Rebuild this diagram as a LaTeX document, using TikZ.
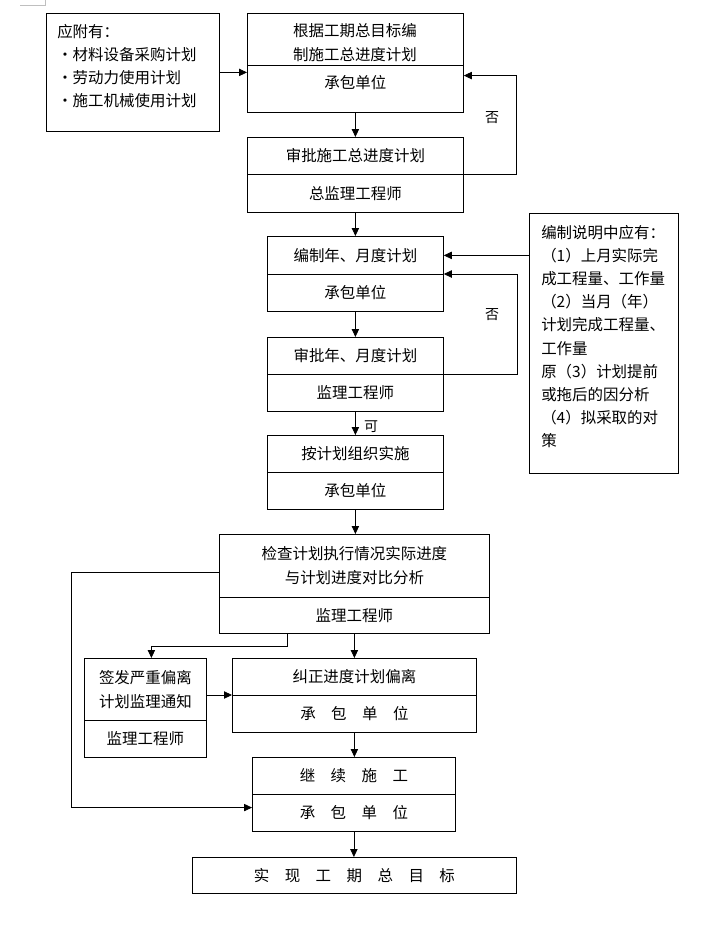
\documentclass[tikz,border=0pt]{standalone}
\usepackage{fontspec}
\setmainfont{Noto Sans CJK SC}
\usetikzlibrary{arrows.meta}
\newcommand\fs{\fontsize{11.6pt}{18pt}\selectfont}
\newcommand\gapp{\hspace{1em}}
\begin{document}
\begin{tikzpicture}[x=0.75pt, y=-0.75pt,
  bx/.style={draw, line width=0.6pt, inner sep=0pt, anchor=north west, align=center, font=\fs},
  arr/.style={draw, line width=0.6pt, -{Triangle[length=6pt,width=5.5pt]}},
  lbl/.style={inner sep=0pt, font=\fontsize{10.5pt}{12pt}\selectfont}]
\fill[white] (0,0) rectangle (724,925);
\useasboundingbox (0,0) rectangle (724,925);
\draw[black!25, line width=0.6pt] (20,5) -- (45,5) -- (45,0);

\node[bx, minimum width=129.75pt, minimum height=88.5pt] (A) at (46,13) {};
\node[inner sep=0pt, anchor=west, align=left, font=\fontsize{11.6pt}{17.25pt}\selectfont] (At) at (57,66.5) {应附有：\\・材料设备采购计划\\・劳动力使用计划\\・施工机械使用计划};

\node[bx, minimum width=162pt, minimum height=39pt] (B1) at (247,13) {};
\node[inner sep=0pt, align=center, font=\fs] (B1t) at (355,43) {根据工期总目标编\\制施工总进度计划};
\node[bx, minimum width=162pt, minimum height=35.25pt, text depth=11pt] (B2) at (247,65) {承包单位};
\node[bx, minimum width=162pt, minimum height=27.75pt] (C1) at (247,137) {审批施工总进度计划};
\node[bx, minimum width=162pt, minimum height=28.5pt] (C2) at (247,174) {总监理工程师};
\node[bx, minimum width=132pt, minimum height=28.5pt] (D1) at (267,236) {编制年、月度计划};
\node[bx, minimum width=132pt, minimum height=27.75pt] (D2) at (267,274) {承包单位};
\node[bx, minimum width=132pt, minimum height=27.75pt] (E1) at (267,337) {审批年、月度计划};
\node[bx, minimum width=132pt, minimum height=27.75pt] (E2) at (267,374) {监理工程师};
\node[bx, minimum width=132pt, minimum height=27.75pt] (G1) at (267,435) {按计划组织实施};
\node[bx, minimum width=132pt, minimum height=27.75pt] (G2) at (267,472) {承包单位};
\node[bx, minimum width=202.5pt, minimum height=47.25pt] (H1) at (219,534) {检查计划执行情况实际进度\\与计划进度对比分析};
\node[bx, minimum width=202.5pt, minimum height=27pt] (H2) at (219,597) {监理工程师};
\node[bx, minimum width=91.5pt, minimum height=46.5pt] (I1) at (84,658) {签发严重偏离\\计划监理通知};
\node[bx, minimum width=91.5pt, minimum height=27.75pt] (I2) at (84,720) {监理工程师};
\node[bx, minimum width=183pt, minimum height=27.75pt] (K1) at (232,658) {纠正进度计划偏离};
\node[bx, minimum width=183pt, minimum height=27.75pt] (K2) at (232,695) {承\gapp 包\gapp 单\gapp 位};
\node[bx, minimum width=152.25pt, minimum height=27.75pt] (J1) at (252,757) {继\gapp 续\gapp 施\gapp 工};
\node[bx, minimum width=152.25pt, minimum height=27.75pt] (J2) at (252,794) {承\gapp 包\gapp 单\gapp 位};
\node[bx, minimum width=243pt, minimum height=27pt] (L) at (192,857) {实\gapp 现\gapp 工\gapp 期\gapp 总\gapp 目\gapp 标};

\node[bx, minimum width=111.75pt, minimum height=195pt] (F) at (529,213) {};
\node[inner sep=0pt, anchor=west, align=left, font=\fontsize{11.6pt}{17.4pt}\selectfont] (Ft) at (541,336.5) {编制说明中应有：\\（1）上月实际完\\成工程量、工作量\\（2）当月（年）\\计划完成工程量、\\工作量\\原（3）计划提前\\或拖后的因分析\\（4）拟采取的对\\策};

\draw[arr] (A.east) -- (A.east -| B2.west);
\draw[arr] (B2.south) -- (C1.north);
\draw[arr] (C1.south east) -- ++(53,0) |- ([yshift=10pt]B2.east);
\draw[arr] (C2.south) -- (D1.north);
\draw[arr] (D1.east -| F.west) -- (D1.east);
\draw[arr] (D2.south) -- (E1.north);
\draw[arr] (E1.south east) -- ++(74,0) |- (D2.north east);
\draw[arr] (E2.south) -- (G1.north);
\draw[arr] (G2.south) -- (G2.south |- H1.north);
\draw[arr] ([yshift=-5pt]H1.west) -- ++(-148,0) |- ([yshift=4pt]J2.west);
\draw[arr] ([xshift=-50.25pt]H2.south) -- ++(0,13) -| ([xshift=4.5pt]I1.north);
\draw[arr] (H2.south) -- (K1.north);
\draw[arr] (I1.east |- K2.north west) -- (K2.north west);
\draw[arr] (K2.south) -- (K2.south |- J1.north);
\draw[arr] (J2.south) -- (J2.south |- L.north);

\node[lbl] (n1) at (492,118) {否};
\node[lbl] (n2) at (492,315) {否};
\node[lbl] (ok) at (371,427) {可};
\end{tikzpicture}
\end{document}
